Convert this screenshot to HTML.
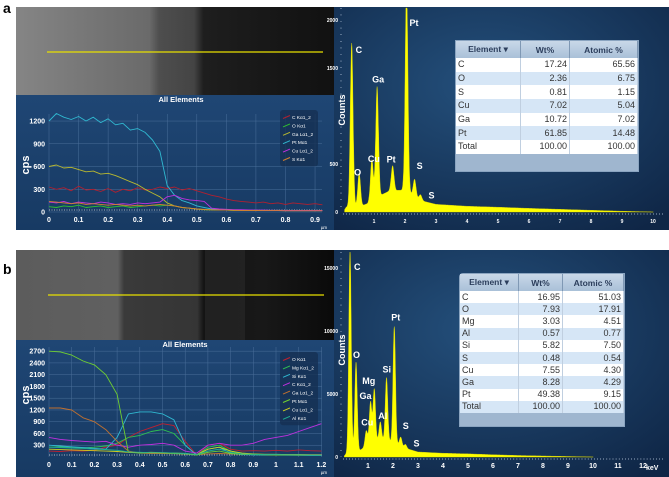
<!DOCTYPE html>
<html><head><meta charset="utf-8">
<style>
html,body{margin:0;padding:0;background:#fff;}
body{width:669px;height:477px;position:relative;overflow:hidden;font-family:"Liberation Sans",sans-serif;}
svg{position:absolute;left:0;top:0;}
.tbl{position:absolute;background:#9fb6cf;border:1px solid #8aa4c0;font-family:"Liberation Sans",sans-serif;color:#333;}
.tbl table{border-collapse:collapse;width:100%;}
.tbl th{background:linear-gradient(#c9d8e8,#a9c0d8);color:#2c3e5c;font-weight:bold;font-size:8.5px;border-right:1px solid #7f98b4;padding:0;}
.tbl td{font-size:9px;padding:0 2px;border-right:1px solid #c0cfe0;line-height:1;}
.tbl td.n{text-align:right;}
.tbl tr:nth-child(even) td{background:#fff;}
.tbl tr:nth-child(odd) td{background:#d6e6f6;}
</style></head>
<body>
<svg id="s" width="669" height="477" viewBox="0 0 669 477">
<defs>
<radialGradient id="bgR" cx="0.45" cy="0.35" r="0.8"><stop offset="0" stop-color="#24507c"/><stop offset="1" stop-color="#0f2646"/></radialGradient>
<linearGradient id="bgL" x1="0" y1="0" x2="0" y2="1"><stop offset="0" stop-color="#1f4674"/><stop offset="1" stop-color="#173a63"/></linearGradient>
<linearGradient id="semA" x1="0" y1="0" x2="1" y2="0"><stop offset="0" stop-color="#858585"/><stop offset="0.42" stop-color="#6a6a6a"/><stop offset="0.45" stop-color="#4e4e4e"/><stop offset="0.56" stop-color="#444"/><stop offset="0.59" stop-color="#1e1e1e"/><stop offset="1" stop-color="#111"/></linearGradient>
<linearGradient id="semB" x1="0" y1="0" x2="1" y2="0"><stop offset="0" stop-color="#5c5c5c"/><stop offset="0.32" stop-color="#606060"/><stop offset="0.34" stop-color="#3a3a3a"/><stop offset="0.57" stop-color="#353535"/><stop offset="0.59" stop-color="#141414"/><stop offset="0.78" stop-color="#181818"/><stop offset="1" stop-color="#0a0a0a"/></linearGradient>
</defs>
<text x="3" y="13" font-size="14" font-weight="bold" fill="#000">a</text>
<text x="3" y="274" font-size="14" font-weight="bold" fill="#000">b</text>
<rect x="16" y="7" width="318" height="89" fill="url(#semA)"/>
<rect x="16" y="250" width="318" height="91" fill="url(#semB)"/>
<rect x="205" y="250" width="40" height="91" fill="#2a2a2a" opacity="0.6"/>
<line x1="47" y1="52" x2="323" y2="52" stroke="#e8e000" stroke-width="1.3"/>
<line x1="48" y1="295" x2="324" y2="295" stroke="#e8e000" stroke-width="1.3"/>
<rect x="16" y="95" width="318" height="135" fill="url(#bgL)"/>
<rect x="16" y="340" width="318" height="137" fill="url(#bgL)"/>
<rect x="334" y="7" width="335" height="223" fill="url(#bgR)"/>
<rect x="334" y="250" width="335" height="227" fill="url(#bgR)"/>
<g id="g"></g>
</svg>

<div class="tbl" style="left:455px;top:40px;width:182px;height:130px;">
<table><tr style="height:17px"><th style="width:64px">Element ▾</th><th style="width:48px">Wt%</th><th>Atomic %</th></tr>
<tr style="height:13.7px"><td>C</td><td class="n">17.24</td><td class="n">65.56</td></tr>
<tr style="height:13.7px"><td>O</td><td class="n">2.36</td><td class="n">6.75</td></tr>
<tr style="height:13.7px"><td>S</td><td class="n">0.81</td><td class="n">1.15</td></tr>
<tr style="height:13.7px"><td>Cu</td><td class="n">7.02</td><td class="n">5.04</td></tr>
<tr style="height:13.7px"><td>Ga</td><td class="n">10.72</td><td class="n">7.02</td></tr>
<tr style="height:13.7px"><td>Pt</td><td class="n">61.85</td><td class="n">14.48</td></tr>
<tr style="height:13.7px"><td>Total</td><td class="n">100.00</td><td class="n">100.00</td></tr>
</table></div>

<div class="tbl" style="left:459px;top:273px;width:164px;height:152px;border-radius:4px 0 0 0;">
<table><tr style="height:17px"><th style="width:58px">Element ▾</th><th style="width:43px">Wt%</th><th>Atomic %</th></tr>
<tr style="height:12.2px"><td>C</td><td class="n">16.95</td><td class="n">51.03</td></tr>
<tr style="height:12.2px"><td>O</td><td class="n">7.93</td><td class="n">17.91</td></tr>
<tr style="height:12.2px"><td>Mg</td><td class="n">3.03</td><td class="n">4.51</td></tr>
<tr style="height:12.2px"><td>Al</td><td class="n">0.57</td><td class="n">0.77</td></tr>
<tr style="height:12.2px"><td>Si</td><td class="n">5.82</td><td class="n">7.50</td></tr>
<tr style="height:12.2px"><td>S</td><td class="n">0.48</td><td class="n">0.54</td></tr>
<tr style="height:12.2px"><td>Cu</td><td class="n">7.55</td><td class="n">4.30</td></tr>
<tr style="height:12.2px"><td>Ga</td><td class="n">8.28</td><td class="n">4.29</td></tr>
<tr style="height:12.2px"><td>Pt</td><td class="n">49.38</td><td class="n">9.15</td></tr>
<tr style="height:12.2px"><td>Total</td><td class="n">100.00</td><td class="n">100.00</td></tr>
</table></div>

<script>
// ---- Profile A data (x step 0.025 um) ----
const aPt=[1200,1300,1250,1220,1260,1200,1250,1180,1230,1150,1170,1080,1100,1050,950,800,350,220,150,120,80,60,40,35,30,28,25,25,22,22,20,20,20,18,18,18,18,18];
const aGa=[600,620,580,590,560,530,540,500,510,480,440,400,360,300,250,200,120,80,60,50,40,30,28,25,25,22,22,20,20,20,20,20,18,18,18,18,18,18];
const aC=[330,300,320,280,340,290,300,270,310,260,300,280,320,290,300,330,310,330,290,310,280,250,220,200,170,150,140,130,120,130,110,120,100,120,110,100,110,95];
const aO=[70,60,80,70,90,60,70,80,60,70,80,60,70,80,90,80,90,80,60,50,40,30,30,25,25,20,25,20,22,20,20,22,18,20,18,20,18,18];
const aCu=[130,120,140,110,130,120,110,130,120,100,110,100,120,110,120,130,200,220,180,160,150,140,50,40,35,30,30,28,25,25,22,22,20,20,20,20,20,20];
const aS=[140,130,120,110,120,100,110,100,90,100,90,80,90,80,90,100,90,80,60,50,40,35,30,28,25,22,20,20,20,18,18,18,16,16,16,16,16,16];
const aTicksX=["0","0.1","0.2","0.3","0.4","0.5","0.6","0.7","0.8","0.9"];
const aTicksY=[0,300,600,900,1200];
const aNames=["C Kα1_2","O Kα1","Ga Lα1_2","Pt Mα1","Cu Lα1_2","S Kα1"];
// ---- Profile B data (x step 0.05 um) ----
const bO=[150,140,160,150,170,250,300,500,650,750,850,800,400,50,300,350,200,150,160,150,170,150,180,160,150];
const bMg=[250,260,240,230,250,280,350,500,550,650,700,600,300,50,250,300,150,80,70,60,60,50,55,50,50];
const bSi=[300,280,260,240,220,200,500,1100,1150,1150,1100,950,300,50,200,250,100,60,55,50,50,45,45,40,40];
const bC=[500,450,420,400,380,400,300,250,300,320,350,300,150,100,300,350,300,300,350,450,500,550,650,750,850];
const bGa=[1250,1250,1200,1000,900,700,400,150,100,90,90,85,80,60,80,90,80,75,70,70,65,60,60,60,60];
const bPt=[2700,2680,2600,2450,2350,2100,1600,120,100,110,100,90,80,50,120,150,90,70,60,55,50,50,45,45,45];
const bCu=[200,190,180,170,160,150,140,120,110,120,110,100,90,60,200,250,150,100,80,70,70,60,60,55,55];
const bAl=[250,240,230,220,200,190,170,130,120,110,110,100,90,60,150,200,120,80,70,60,60,55,55,50,50];
const bTicksX=["0","0.1","0.2","0.3","0.4","0.5","0.6","0.7","0.8","0.9","1","1.1","1.2"];
const bTicksY=[300,600,900,1200,1500,1800,2100,2400,2700];
const bNames=["O Kα1","Mg Kα1_2","Si Kα1","C Kα1_2","Ga Lα1_2","Pt Mα1","Cu Lα1_2","Al Kα1"];
// ---- Spectrum data ----
const bgE=[0.1,0.3,0.5,0.8,1.0,1.5,2.0,2.5,3,4,5,6,7,8,9,10];
const sABg=[50,60,50,90,140,220,230,120,80,60,50,38,28,18,8,0];
const sAPeakE=[0.28,0.52,0.93,1.1,1.6,2.05,2.31,2.5];
const sAPeakC=[1700,350,420,1150,260,2100,180,60];
const sAPeakL=["C","O","Cu","Ga","Pt","Pt","S","S"];
const sBBg=[200,400,300,700,1000,1400,1200,700,400,300,250,180,120,80,40,0];
const sBPeakE=[0.28,0.52,0.93,1.1,1.25,1.49,1.74,2.05,2.31,2.5];
const sBPeakC=[16000,7200,1200,3300,4200,1400,5000,9200,700,300];
const sBPeakL=["C","O","Cu","Ga","Mg","Al","Si","Pt","S","S"];
const sATicks=[1,2,3,4,5,6,7,8,9,10];
const sBTicks=[1,2,3,4,5,6,7,8,9,10,11,12];

const NS="http://www.w3.org/2000/svg";
const G=document.getElementById('g');
function mk(tag,attrs,parent){const e=document.createElementNS(NS,tag);for(const k in attrs)e.setAttribute(k,attrs[k]);(parent||G).appendChild(e);return e;}
function txt(x,y,s,size,fill,anchor,weight){const t=mk('text',{x:x,y:y,'font-size':size,fill:fill,'text-anchor':anchor||'start','font-weight':weight||'normal','font-family':'Liberation Sans, sans-serif'});t.textContent=s;return t;}

function profile(cfg){
  const X=v=>cfg.x0+v*cfg.kx, Y=v=>cfg.y0-v*cfg.ky;
  cfg.ticksX.forEach((s,i)=>{const v=i*0.1;const l=mk('line',{x1:X(v),x2:X(v),y1:cfg.top,y2:cfg.y0,stroke:'#4a6f9a','stroke-width':0.5});
    
    const t=txt(X(v),cfg.y0+10,s,7,'#fff','middle','bold');});
  cfg.ticksY.forEach(v=>{const l=mk('line',{x1:cfg.x0,x2:cfg.right,y1:Y(v),y2:Y(v),stroke:'#4a6f9a','stroke-width':0.5});
    
    const t=txt(cfg.x0-4,Y(v)+2.5,String(v),7,'#fff','end','bold');});
  const b=mk('line',{x1:cfg.x0,x2:cfg.right,y1:cfg.y0-2,y2:cfg.y0-2,stroke:'#ddd','stroke-width':0.7,'stroke-dasharray':'1 1.5'});
  
  cfg.series.forEach((sr,i)=>{
    const pts=sr.d.map((v,j)=>X(j*cfg.step).toFixed(1)+','+Y(v).toFixed(1)).join(' ');
    const p=mk('polyline',{points:pts,fill:'none',stroke:sr.c,'stroke-width':0.9,'stroke-linejoin':'round'});
    
  });
  const tt=txt(cfg.titleX,cfg.titleY,'All Elements',7.5,'#fff','middle','bold');
  const yl=txt(0,0,'cps',11,'#fff','middle','bold');yl.setAttribute('transform','translate('+cfg.ylX+','+cfg.ylY+') rotate(-90)');
  
  const um=txt(cfg.right+2,cfg.y0+17,'µm',4.5,'#fff','middle');
  const lg=mk('rect',{x:cfg.lx,y:cfg.ly,width:38,height:cfg.series.length*8.4+6,rx:3,fill:'#152f52',opacity:0.8});
  
  cfg.names.forEach((n,i)=>{const y=cfg.ly+7+i*8.4;
    const l=mk('line',{x1:cfg.lx+3,y1:y+1.5,x2:cfg.lx+10,y2:y-1.5,stroke:cfg.series[i].c,'stroke-width':1});
    
    const t=txt(cfg.lx+12,y+2,n,4.8,'#fff');});
}
profile({x0:49,kx:295.6,y0:212,ky:0.0758,top:114,right:322,step:0.025,ticksX:aTicksX,ticksY:aTicksY,
  titleX:181,titleY:102,ylX:29,ylY:165,lx:280,ly:110,names:aNames,
  series:[{id:'c',d:aC,c:'#b02030'},{id:'o',d:aO,c:'#30c030'},{id:'ga',d:aGa,c:'#b8b830'},{id:'pt',d:aPt,c:'#30b8d0'},{id:'cu',d:aCu,c:'#c030e0'},{id:'s',d:aS,c:'#d08030'}]});
profile({x0:49,kx:227,y0:457,ky:0.0392,top:347,right:322,step:0.05,ticksX:bTicksX,ticksY:bTicksY,
  titleX:185,titleY:347,ylX:29,ylY:395,lx:280,ly:352,names:bNames,
  series:[{id:'o',d:bO,c:'#c02030'},{id:'mg',d:bMg,c:'#30c050'},{id:'si',d:bSi,c:'#30b8d0'},{id:'c',d:bC,c:'#c030e0'},{id:'ga',d:bGa,c:'#c07030'},{id:'pt',d:bPt,c:'#70d030'},{id:'cu',d:bCu,c:'#d0d020'},{id:'al',d:bAl,c:'#20b090'}]});

function spectrum(cfg){
  const X=e=>cfg.x0+e*cfg.kx, Y=c=>cfg.y0-c*cfg.ky;
  function bgAt(e){if(e<=bgE[0])return cfg.bg[0]*e/bgE[0];for(let i=1;i<bgE.length;i++){if(e<=bgE[i]){const t=(e-bgE[i-1])/(bgE[i]-bgE[i-1]);return cfg.bg[i-1]+t*(cfg.bg[i]-cfg.bg[i-1]);}}return 0;}
  let pts=[X(0.05)+','+cfg.y0];
  for(let e=0.05;e<=10.01;e+=0.01){let c=bgAt(e);cfg.pe.forEach((pe,i)=>{const d=(e-pe)/cfg.sig;c+=cfg.pc[i]*Math.exp(-d*d/2);});pts.push(X(e).toFixed(1)+','+Math.max(Y(c),cfg.clip).toFixed(1));}
  pts.push(X(10)+','+cfg.y0);
  const p=mk('polygon',{points:pts.join(' '),fill:'#ffff00',stroke:'#e8e000','stroke-width':0.4});
  
  cfg.pe.forEach((pe,i)=>{const t=txt(X(pe)+cfg.loff[i][0],Math.max(Y(cfg.pc[i]+bgAt(pe)),cfg.clip+8)+cfg.loff[i][1],cfg.pl[i],9,'#fff','start','bold');
    });
  const ax=mk('line',{x1:cfg.x0,x2:cfg.right,y1:cfg.y0+2,y2:cfg.y0+2,stroke:'#c8d8ea','stroke-width':1.2,'stroke-dasharray':'0.6 2.5'});
  
  const ay=mk('line',{x1:cfg.x0-2,x2:cfg.x0-2,y1:cfg.clip,y2:cfg.y0,stroke:'#c8d8ea','stroke-width':1.2,'stroke-dasharray':'0.6 6'});
  
  cfg.ticks.forEach(k=>{const t=txt(X(k),cfg.y0+11,String(k),cfg.ts,'#fff','middle','bold');});
  cfg.yt.forEach(v=>{const t=txt(cfg.x0-5,Y(v)+2,String(v),5,'#fff','end','bold');});
  const yl=txt(0,0,'Counts',9,'#fff','middle','bold');yl.setAttribute('transform','translate('+cfg.ylX+','+cfg.ylY+') rotate(-90)');
  
  if(cfg.unit){const u=txt(cfg.unit[0],cfg.unit[1],'keV',cfg.ts,'#fff','start','bold');}
}
spectrum({x0:343,kx:31,y0:212,ky:0.096,clip:8,right:665,sig:0.045,bg:sABg,pe:sAPeakE,pc:sAPeakC,pl:sAPeakL,ticks:sATicks,ts:5,
  yt:[0,500,1500,2000],ylX:345,ylY:110,unit:null,
  loff:[[4,10],[-5,2],[-4,2],[-5,-4],[-6,-3],[3,10],[2,-10],[8,4]]});
spectrum({x0:343,kx:25,y0:457,ky:0.0126,clip:252,right:664,sig:0.05,bg:sBBg,pe:sBPeakE,pc:sBPeakC,pl:sBPeakL,ticks:sBTicks,ts:7,
  yt:[0,5000,10000,15000],ylX:345,ylY:350,unit:[646,470],
  loff:[[4,10],[-3,-4],[-5,-5],[-11,-3],[-12,-5],[-2,-3],[-4,-5],[-3,-6],[2,-8],[8,2]]});
</script>
</body></html>
